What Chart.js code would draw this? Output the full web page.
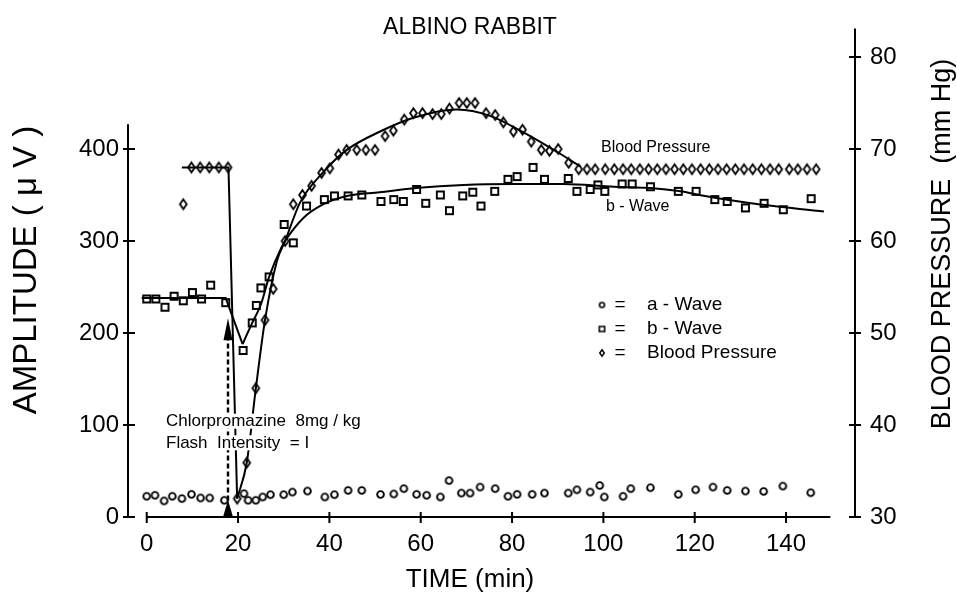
<!DOCTYPE html>
<html>
<head>
<meta charset="utf-8">
<script src="https://cdn.jsdelivr.net/npm/chart.js@4.4.0/dist/chart.umd.min.js"></script>
<style>
  html, body { margin: 0; padding: 0; background: #fff; }
</style>
</head>
<body>
<canvas id="rabbitChart" width="957" height="610"></canvas>
<script>
// tick labels
const timeTicks = [0, 20, 40, 60, 80, 100, 120, 140];
const ampTicks = [0, 100, 200, 300, 400];
const bpTicks = [30, 40, 50, 60, 70, 80];

// a-wave (circles), amplitude in uV
const aWaveTime = [0, 1.8, 3.8, 5.6, 7.7, 9.8, 11.8, 13.8, 17.0, 21.3, 22.2, 23.9, 25.4, 27.1, 30.0, 31.9, 35.2, 39.0, 41.1, 44.1, 47.1, 51.2, 54.1, 56.3, 59.1, 61.3, 64.3, 66.2, 68.9, 70.8, 73.0, 76.3, 79.1, 81.1, 84.4, 87.1, 92.3, 94.2, 97.1, 99.2, 100.2, 104.3, 106.0, 110.3, 116.4, 120.2, 124.0, 127.1, 131.1, 135.1, 139.3, 145.4];
const aWaveAmp = [22.5, 23.6, 17.5, 22.5, 20, 24.6, 20.7, 20.7, 18.2, 25.4, 18.2, 18.2, 21.8, 24.3, 24.3, 27.1, 28.2, 21.8, 24.3, 28.9, 28.9, 24.5, 25, 30.8, 24.6, 23.6, 21.8, 39.6, 26, 26, 32.5, 30.8, 22.5, 24.6, 24.6, 26, 26, 29.6, 27.1, 34.3, 21.8, 22.5, 30.8, 31.8, 24.6, 29.6, 32.5, 28.9, 28.2, 27.8, 33.6, 26.4];

// b-wave (squares)
const bWaveTime = [0, 2, 4, 6, 8, 10, 12, 14, 17.3, 21.1, 23.1, 24.0, 25.0, 26.8, 30.1, 32.1, 35.0, 38.9, 41.1, 44.1, 47.1, 51.3, 54.1, 56.2, 59.1, 61.1, 64.3, 66.3, 69.2, 71.4, 73.2, 76.2, 79.1, 81.1, 84.6, 87.1, 92.3, 94.2, 97.1, 98.8, 100.3, 104.1, 106.3, 110.3, 116.4, 120.3, 124.4, 127.1, 131.1, 135.2, 139.4, 145.5];
const bWaveAmp = [237, 237, 228, 240, 235, 244, 237, 252, 233, 181, 211, 230, 249, 261, 318, 298, 338, 345, 349, 349, 350, 343, 345, 343, 356, 341, 350, 333, 349, 353, 338, 354, 367, 370, 380, 367, 368, 354, 356, 361, 354, 362, 362, 359, 354, 354, 345, 343, 336, 341, 334, 346];

// blood pressure (diamonds), mm Hg
const bpTime = [8.0, 9.8, 11.7, 13.7, 15.8, 17.8, 19.8, 21.9, 23.9, 25.9, 27.7, 30.3, 32.1, 34.1, 36.1, 38.3, 40.1, 42.0, 43.8, 46.0, 48.0, 50.0, 52.2, 54.0, 56.4, 58.4, 60.4, 62.6, 64.5, 66.3, 68.4, 70.1, 71.9, 74.3, 76.3, 78.1, 80.3, 82.3, 84.2, 86.4, 88.2, 90.1, 92.4, 94.6, 96.4, 98.2, 100.4, 102.4, 104.3, 106.1, 108.0, 109.9, 111.8, 113.7, 115.6, 117.5, 119.4, 121.3, 123.2, 125.1, 127.0, 128.9, 130.8, 132.7, 134.6, 136.5, 138.4, 140.7, 142.6, 144.6, 146.6];
const bpValue = [64.0, 68, 68, 68, 68, 68, 32.0, 35.9, 44.0, 51.4, 54.8, 60.0, 64.0, 65.0, 66.0, 67.4, 67.9, 69.4, 69.9, 69.9, 69.9, 69.9, 71.4, 72.0, 73.2, 73.9, 73.9, 73.8, 73.8, 74.4, 75.0, 75.0, 75.0, 73.9, 73.7, 72.9, 71.9, 72.1, 70.8, 69.9, 69.8, 70.0, 68.5, 67.8, 67.8, 67.8, 67.8, 67.8, 67.8, 67.8, 67.8, 67.8, 67.8, 67.8, 67.8, 67.8, 67.8, 67.8, 67.8, 67.8, 67.8, 67.8, 67.8, 67.8, 67.8, 67.8, 67.8, 67.8, 67.8, 67.8, 67.8];

// hand-drawn fit curves
const bFitFlatTime = [-1.1, 17.3, 21.0];
const bFitFlatAmp = [238, 238, 188];
const bFitTime = [21.0, 23.1, 25.0, 26.8, 29.5, 30.3, 34.3, 38.7, 43.8, 51.0, 59.0, 69.4, 80.3, 91.3, 102.3, 110.3, 116.9, 121.3, 132.3, 148.3];
const bFitAmp = [188, 211, 231, 261, 293, 300, 325, 340, 349, 353, 357.6, 361, 362, 362, 359, 357.6, 354, 349.7, 341, 332];
const bpFitDropTime = [7.7, 17.9, 19.8];
const bpFitDropValue = [68, 68, 32.0];
const bpFitTime = [19.8, 21.9, 23.9, 25.9, 28.5, 30.3, 33.6, 38.7, 43.8, 51.1, 58.4, 67.9, 75.2, 82.5, 89.8, 95.0];
const bpFitValue = [32.0, 35.9, 44.0, 51.4, 57.8, 60.0, 64.2, 67.5, 69.9, 71.9, 73.4, 74.3, 73.6, 71.8, 69.7, 68.1];

const FONT = "'Liberation Sans', Arial, sans-serif";

function pts(xs, ys) {
    return xs.map((x, i) => ({ x: x, y: ys[i] }));
}

// 空心记号
function makeMarker(kind, w, h, lw) {
    const c = document.createElement('canvas');
    c.width = Math.ceil(w) + 4;
    c.height = Math.ceil(h) + 4;
    const g = c.getContext('2d');
    const cx = c.width / 2, cy = c.height / 2;
    g.strokeStyle = '#000';
    g.lineWidth = lw;
    g.beginPath();
    if (kind === 'circle') {
        g.arc(cx, cy, (w - lw) / 2, 0, Math.PI * 2);
    } else if (kind === 'square') {
        g.rect(cx - (w - lw) / 2, cy - (h - lw) / 2, w - lw, h - lw);
    } else {
        const a = (w - lw) / 2, b = (h - lw) / 2;
        g.moveTo(cx, cy - b);
        g.lineTo(cx + a, cy);
        g.lineTo(cx, cy + b);
        g.lineTo(cx - a, cy);
        g.closePath();
    }
    g.stroke();
    return c;
}

const circleMark = makeMarker('circle', 8.6, 8.6, 1.9);
const squareMark = makeMarker('square', 9, 9, 1.9);
const diamondMark = makeMarker('diamond', 8.6, 11.5, 1.8);
const legendMarks = [
    makeMarker('circle', 6.5, 6.5, 1.6),
    makeMarker('square', 7, 6.5, 1.6),
    makeMarker('diamond', 6, 8, 1.5)
];

function seg(ctx, x1, y1, x2, y2) {
    ctx.beginPath();
    ctx.moveTo(x1, y1);
    ctx.lineTo(x2, y2);
    ctx.stroke();
}

// 坐标轴、箭头、文字
const decor = {
    id: 'decor',
    beforeDatasetsDraw(chart) {
        const { ctx, chartArea } = chart;
        const x = chart.scales.x, yL = chart.scales.yL, yR = chart.scales.yR;
        ctx.save();
        ctx.strokeStyle = '#000';
        ctx.lineWidth = 2;
        const yb = yL.getPixelForValue(0);
        seg(ctx, x.getPixelForValue(0), yb, x.getPixelForValue(149.7), yb);
        timeTicks.forEach(t => {
            const px = x.getPixelForValue(t);
            seg(ctx, px, yb - 5, px, yb + 6);
        });
        const xl = chartArea.left;
        seg(ctx, xl, yb + 1, xl, yL.getPixelForValue(427));
        ampTicks.forEach(v => {
            const py = yL.getPixelForValue(v);
            seg(ctx, xl - 5, py, xl + 7, py);
        });
        const xr = chartArea.right;
        seg(ctx, xr, yR.getPixelForValue(30), xr, chartArea.top - 1);
        bpTicks.forEach(v => {
            const py = yR.getPixelForValue(v);
            seg(ctx, xr - 6, py, xr + 6, py);
        });
        ctx.restore();
    },
    afterDatasetsDraw(chart) {
        const { ctx } = chart;
        const x = chart.scales.x, yL = chart.scales.yL;
        ctx.save();
        ctx.fillStyle = '#000';
        ctx.strokeStyle = '#000';

        // injection arrow
        const ax = x.getPixelForValue(17.8);
        const yTip = yL.getPixelForValue(216);
        ctx.lineWidth = 2.4;
        ctx.setLineDash([5, 3]);
        seg(ctx, ax, yL.getPixelForValue(18), ax, yTip + 18);
        ctx.setLineDash([]);
        ctx.beginPath();
        ctx.moveTo(ax, yTip);
        ctx.lineTo(ax + 4.5, yTip + 22);
        ctx.lineTo(ax - 4.5, yTip + 22);
        ctx.closePath();
        ctx.fill();
        const yb = yL.getPixelForValue(0);
        ctx.beginPath();
        ctx.moveTo(ax, yb - 17);
        ctx.lineTo(ax + 5, yb);
        ctx.lineTo(ax - 5, yb);
        ctx.closePath();
        ctx.fill();

        // annotation with white knock-out
        ctx.textBaseline = 'middle';
        ctx.textAlign = 'left';
        ctx.font = '17px ' + FONT;
        [['Chlorpromazine  8mg / kg', 421.7], ['Flash  Intensity  = I', 443.3]].forEach(r => {
            const w = ctx.measureText(r[0]).width;
            ctx.fillStyle = '#fff';
            ctx.fillRect(164, r[1] - 8, w + 4, 15);
            ctx.fillStyle = '#000';
            ctx.fillText(r[0], 166, r[1]);
        });
        ctx.font = '16px ' + FONT;
        ctx.fillText('Blood Pressure', 601, 148);
        ctx.fillText('b - Wave', 606, 207);

        // legend
        ctx.font = '19px ' + FONT;
        const labels = ['a - Wave', 'b - Wave', 'Blood Pressure'];
        [305, 329, 353].forEach((ly, i) => {
            const m = legendMarks[i];
            ctx.drawImage(m, 602 - m.width / 2, ly - m.height / 2);
            ctx.textAlign = 'center';
            ctx.fillText('=', 620, ly);
            ctx.textAlign = 'left';
            ctx.fillText(labels[i], 647, ly);
        });

        // titles
        ctx.textAlign = 'center';
        ctx.font = '23px ' + FONT;
        ctx.fillText('ALBINO RABBIT', 470, 28);
        ctx.font = '26px ' + FONT;
        ctx.fillText('TIME (min)', 470, 580);
        ctx.save();
        ctx.translate(27, 270);
        ctx.rotate(-Math.PI / 2);
        ctx.font = '33px ' + FONT;
        ctx.fillText('AMPLITUDE ( \u03bc V )', 0, 0);
        ctx.restore();
        ctx.save();
        ctx.translate(943, 244);
        ctx.rotate(-Math.PI / 2);
        ctx.font = '27px ' + FONT;
        ctx.fillText('BLOOD PRESSURE  (mm Hg)', 0, 0);
        ctx.restore();
        ctx.restore();
    }
};

const tickFont = { family: FONT, size: 24 };

const ctx = document.getElementById('rabbitChart').getContext('2d');
const rabbitChart = new Chart(ctx, {
    type: 'scatter',
    data: {
        datasets: [
            { label: 'a-Wave', data: pts(aWaveTime, aWaveAmp), yAxisID: 'yL', pointStyle: circleMark, pointRadius: 4 },
            { label: 'b-Wave', data: pts(bWaveTime, bWaveAmp), yAxisID: 'yL', pointStyle: squareMark, pointRadius: 4 },
            { label: 'Blood Pressure', data: pts(bpTime, bpValue), yAxisID: 'yR', pointStyle: diamondMark, pointRadius: 4 },
            { label: 'b fit flat', data: pts(bFitFlatTime, bFitFlatAmp), yAxisID: 'yL', showLine: true, pointRadius: 0, borderColor: '#000', borderWidth: 2, tension: 0 },
            { label: 'b fit', data: pts(bFitTime, bFitAmp), yAxisID: 'yL', showLine: true, pointRadius: 0, borderColor: '#000', borderWidth: 2, cubicInterpolationMode: 'monotone' },
            { label: 'bp drop', data: pts(bpFitDropTime, bpFitDropValue), yAxisID: 'yR', showLine: true, pointRadius: 0, borderColor: '#000', borderWidth: 2, tension: 0 },
            { label: 'bp fit', data: pts(bpFitTime, bpFitValue), yAxisID: 'yR', showLine: true, pointRadius: 0, borderColor: '#000', borderWidth: 2, cubicInterpolationMode: 'monotone' }
        ]
    },
    options: {
        responsive: false,
        animation: false,
        layout: { padding: { top: 20.92, right: 0, bottom: 0, left: 0 } },
        plugins: {
            legend: { display: false },
            tooltip: { enabled: false },
            title: { display: false }
        },
        scales: {
            x: {
                type: 'linear',
                position: 'bottom',
                min: -4.1,
                max: 155.1,
                grid: { display: false, drawTicks: false },
                border: { display: false },
                afterBuildTicks: s => { s.ticks = timeTicks.map(v => ({ value: v })); },
                afterFit: s => { s.height = 93; },
                ticks: { color: '#000', font: tickFont, padding: 13, maxRotation: 0, autoSkip: false }
            },
            yL: {
                type: 'linear',
                position: 'left',
                min: 0,
                max: 530,
                grid: { display: false, drawTicks: false },
                border: { display: false },
                afterBuildTicks: s => { s.ticks = ampTicks.map(v => ({ value: v })); },
                afterFit: s => { s.width = 128; },
                ticks: { color: '#000', font: tickFont, padding: 9 }
            },
            yR: {
                type: 'linear',
                position: 'right',
                min: 30,
                max: 83,
                grid: { display: false, drawTicks: false },
                border: { display: false },
                afterBuildTicks: s => { s.ticks = bpTicks.map(v => ({ value: v })); },
                afterFit: s => { s.width = 102; },
                ticks: { color: '#000', font: tickFont, padding: 15 }
            }
        }
    },
    plugins: [decor]
});
</script>
</body>
</html>
